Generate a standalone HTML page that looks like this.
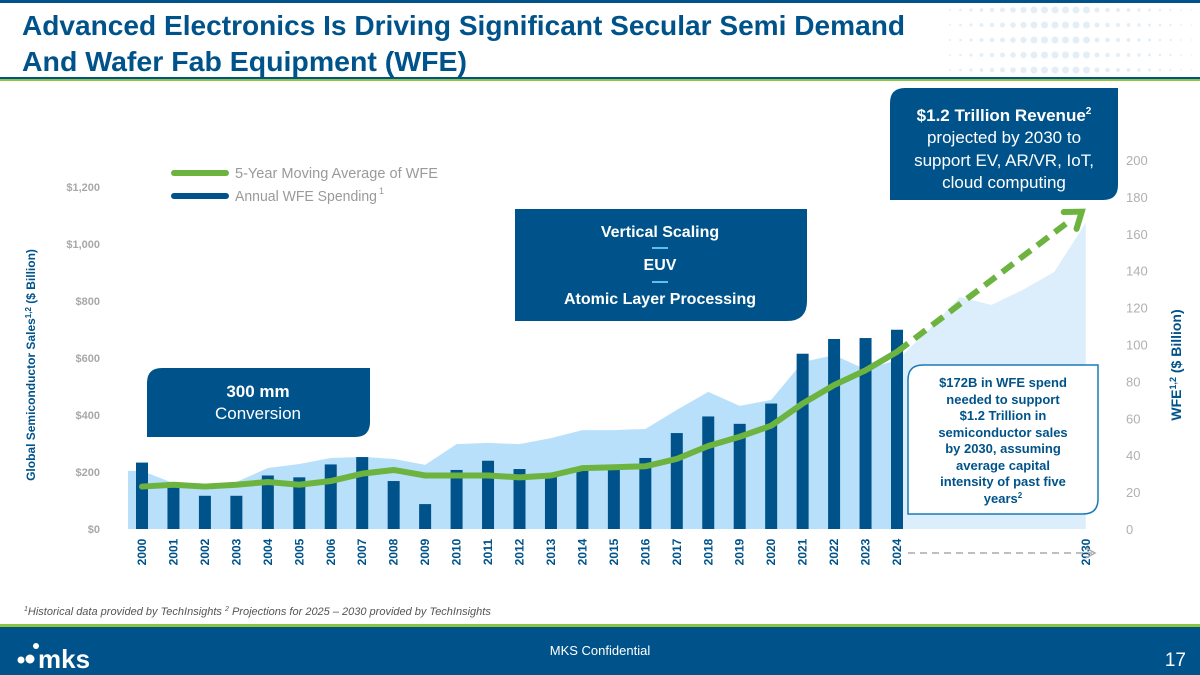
<!DOCTYPE html>
<html><head><meta charset="utf-8"><style>
html,body{margin:0;padding:0;background:#fff;}
svg{display:block;font-family:"Liberation Sans",sans-serif;}
</style></head><body>
<svg id="s" width="1200" height="675" viewBox="0 0 1200 675" xmlns="http://www.w3.org/2000/svg">
<rect x="0" y="0" width="1200" height="3" fill="#00538a"/>
<g id="dots"></g>
<text x="22" y="35" font-size="28" font-weight="bold" fill="#00538a" textLength="883" lengthAdjust="spacingAndGlyphs">Advanced Electronics Is Driving Significant Secular Semi Demand</text>
<text x="22" y="71" font-size="28" font-weight="bold" fill="#00538a" textLength="445" lengthAdjust="spacingAndGlyphs">And Wafer Fab Equipment (WFE)</text>
<rect x="0" y="77" width="1200" height="2" fill="#00538a"/>
<rect x="0" y="79" width="1200" height="2" fill="#8cc63f"/>
<g id="chart"></g>
<g>
<line x1="174" y1="173" x2="226" y2="173" stroke="#6db33f" stroke-width="6" stroke-linecap="round"/>
<text x="235" y="178" font-size="15" fill="#9a9a9a" textLength="203" lengthAdjust="spacingAndGlyphs">5-Year Moving Average of WFE</text>
<line x1="174" y1="196" x2="226" y2="196" stroke="#00538a" stroke-width="6" stroke-linecap="round"/>
<text x="235" y="201" font-size="15" fill="#9a9a9a" textLength="142" lengthAdjust="spacingAndGlyphs">Annual WFE Spending</text>
<text x="379" y="194" font-size="9" fill="#9a9a9a">1</text>
</g>
<g>
<path d="M905,88 H1118 V185 Q1118,200 1103,200 H890 V103 Q890,88 905,88Z" fill="#00538a"/>
<text x="1004" y="121" font-size="17" font-weight="bold" fill="#fff" text-anchor="middle">$1.2 Trillion Revenue<tspan font-size="10" dy="-7">2</tspan></text>
<text x="1004" y="143" font-size="17" fill="#fff" text-anchor="middle">projected by 2030 to</text>
<text x="1004" y="166" font-size="17" fill="#fff" text-anchor="middle">support EV, AR/VR, IoT,</text>
<text x="1004" y="188" font-size="17" fill="#fff" text-anchor="middle">cloud computing</text>
</g>
<g>
<path d="M515,209 H807 V301 Q807,321 787,321 H515Z" fill="#00538a"/>
<text x="660" y="237" font-size="16" font-weight="bold" fill="#fff" text-anchor="middle">Vertical Scaling</text>
<rect x="652" y="247" width="16" height="2" fill="#5bc2f0"/>
<text x="660" y="270" font-size="16" font-weight="bold" fill="#fff" text-anchor="middle">EUV</text>
<rect x="652" y="281" width="16" height="2" fill="#5bc2f0"/>
<text x="660" y="304" font-size="16" font-weight="bold" fill="#fff" text-anchor="middle">Atomic Layer Processing</text>
</g>
<g>
<path d="M162,368 H370 V422 Q370,437 355,437 H147 V383 Q147,368 162,368Z" fill="#00538a"/>
<text x="258" y="397" font-size="17" font-weight="bold" fill="#fff" text-anchor="middle">300 mm</text>
<text x="258" y="419" font-size="17" fill="#fff" text-anchor="middle">Conversion</text>
</g>
<g>
<path d="M923,365 H1098 V499 Q1098,514 1083,514 H908 V380 Q908,365 923,365Z" fill="#fff" stroke="#1a7ab8" stroke-width="1.5"/>
<g font-size="13" font-weight="bold" fill="#00538a" text-anchor="middle">
<text x="1003" y="387">$172B in WFE spend</text>
<text x="1003" y="404">needed to support</text>
<text x="1003" y="420">$1.2 Trillion in</text>
<text x="1003" y="437">semiconductor sales</text>
<text x="1003" y="453">by 2030, assuming</text>
<text x="1003" y="470">average capital</text>
<text x="1003" y="486">intensity of past five</text>
<text x="1003" y="503">years<tspan font-size="8" dy="-5">2</tspan></text>
</g>
</g>
<text transform="translate(35,365) rotate(-90)" font-size="12" font-weight="bold" fill="#00538a" text-anchor="middle">Global Semiconductor Sales<tspan font-size="8" dy="-4">1,2</tspan><tspan dy="4"> ($ Billion)</tspan></text>
<text transform="translate(1181,365) rotate(-90)" font-size="14" font-weight="bold" fill="#00538a" text-anchor="middle">WFE<tspan font-size="9" dy="-5">1,2</tspan><tspan dy="5"> ($ Billion)</tspan></text>
<text x="24" y="615" font-size="11" font-style="italic" fill="#555"><tspan font-size="7" dy="-4">1</tspan><tspan dy="4">Historical data provided by TechInsights  </tspan><tspan font-size="7" dy="-4">2</tspan><tspan dy="4"> Projections for 2025 – 2030 provided by TechInsights</tspan></text>
<rect x="0" y="624" width="1200" height="3" fill="#8cc63f"/>
<rect x="0" y="627" width="1200" height="48" fill="#00538a"/>
<g>
<circle cx="21" cy="660" r="3.5" fill="#fff"/><circle cx="30" cy="659" r="4.5" fill="#fff"/><circle cx="36" cy="646" r="3" fill="#fff"/>
<text x="38" y="668" font-size="26" font-weight="bold" fill="#fff">mks</text>
</g>
<text x="600" y="655" font-size="13" fill="#fff" text-anchor="middle">MKS Confidential</text>
<text x="1186" y="666" font-size="19" fill="#fff" text-anchor="end">17</text>
</svg>
<script>
const years=['2000','2001','2002','2003','2004','2005','2006','2007','2008','2009','2010','2011','2012','2013','2014','2015','2016','2017','2018','2019','2020','2021','2022','2023','2024'];
const wfeSpend=[36,25,18,18,29,28,35,39,26,13.5,32,37,32.5,29,32.5,32.5,38.5,52,61,57,68,95,103,103.5,108];
const wfeMovingAvg=[23,24,23,24,25.5,24,26,30,32,29,29,29,28,29,33,33.5,34,38,45,50,56,68,78,86,96];
const projectedWfe2030=172;
const semiSales=[204,161,158,165,214,228,249,253,246,225,298,302,298,319,347,347,351,418,481,432,453,586,610,560,593];
const projYears=['2025','2026','2027','2028','2029','2030'];
const semiSalesProj=[698,814,786,839,902,1074];
const leftTicks=[0,200,400,600,800,1000,1200];
const rightTicks=[0,20,40,60,80,100,120,140,160,180,200];
</script>
<script>
const NS='http://www.w3.org/2000/svg';
const chart=document.getElementById('chart');
function mk(tag,attrs,parent){const e=document.createElementNS(NS,tag);for(const k in attrs)e.setAttribute(k,attrs[k]);(parent||chart).appendChild(e);return e;}
const base=529;
const yL=v=>base-v*(342/1200);
const yR=v=>base-v*(369/200);
const x0=142,step=(897-142)/24;
const xi=i=>x0+i*step;
let pd='M'+xi(24)+','+base+' L'+xi(24)+','+yL(semiSales[24]);
semiSalesProj.forEach((v,j)=>{pd+=' L'+xi(25+j)+','+yL(v);});
pd+=' L'+xi(30)+','+base+'Z';
let pa=mk('path',{d:pd,fill:'#dcedfb'});


let d='M128,'+base+' L128,'+yL(semiSales[0]);
semiSales.forEach((v,i)=>{d+=' L'+xi(i)+','+yL(v);});
d+=' L'+(xi(24)+4)+','+yL(semiSales[24])+' L'+(xi(24)+4)+','+base+'Z';
let ha=mk('path',{d:d,fill:'#b9e0fa'});


leftTicks.forEach(v=>{const t=mk('text',{x:100,y:yL(v)+4,'font-size':11,'font-weight':'bold',fill:'#a8a8a8','text-anchor':'end'});t.textContent='$'+v.toLocaleString('en-US');

});
rightTicks.forEach(v=>{const t=mk('text',{x:1126,y:yR(v)+5,'font-size':13,fill:'#b0b0b0'});t.textContent=v;

});
wfeSpend.forEach((v,i)=>{const r=mk('rect',{x:xi(i)-6,y:yR(v),width:12,height:base-yR(v),fill:'#00538a'});

});
const pts=wfeMovingAvg.map((v,i)=>xi(i)+','+yR(v)).join(' ');
const ml=mk('polyline',{points:pts,fill:'none',stroke:'#6db33f','stroke-width':6,'stroke-linejoin':'round','stroke-linecap':'round'});


const px1=xi(24),py1=yR(wfeMovingAvg[24]),px2=xi(30)-4,py2=yR(projectedWfe2030);
const ang=Math.atan2(py2-py1,px2-px1);
const ex=px2-12*Math.cos(ang),ey=py2-12*Math.sin(ang);
const dl=mk('line',{x1:px1,y1:py1,x2:ex,y2:ey,stroke:'#6db33f','stroke-width':6,'stroke-dasharray':'14 8'});


const a1=ang+Math.PI*0.8,a2=ang-Math.PI*0.8;
const ah=mk('polyline',{points:(px2+18*Math.cos(a1))+','+(py2+18*Math.sin(a1))+' '+px2+','+py2+' '+(px2+18*Math.cos(a2))+','+(py2+18*Math.sin(a2)),fill:'none',stroke:'#6db33f','stroke-width':6,'stroke-linecap':'round','stroke-linejoin':'miter'});


years.concat(['2030']).forEach((y,i)=>{const xx=i<25?xi(i):xi(30);const t=mk('text',{transform:'translate('+(xx+4)+',552) rotate(-90)','font-size':12,'font-weight':'bold',fill:'#00538a','text-anchor':'middle'});t.textContent=y;

});
const gl=mk('line',{x1:908,y1:553,x2:1092,y2:553,stroke:'#aaa','stroke-width':1.5,'stroke-dasharray':'7 5'});


const gh=mk('polyline',{points:'1086,548 1095,553 1086,558',fill:'none',stroke:'#aaa','stroke-width':1.5});


const dots=document.getElementById('dots');
for(let c=0;c<24;c++)for(let r=0;r<5;r++){const rad=c<8?1+c*0.3:(c<14?3.5:2.5-(c-14)*0.2);if(rad<=0.3)continue;const e=document.createElementNS(NS,'circle');e.setAttribute('cx',950+c*10.5);e.setAttribute('cy',10+r*15);e.setAttribute('r',rad);e.setAttribute('fill','#e3eef7');dots.appendChild(e);}
</script>
</body></html>
